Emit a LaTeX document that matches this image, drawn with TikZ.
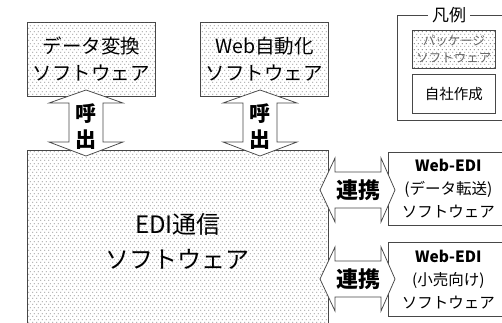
\documentclass[tikz,border=0pt]{standalone}
\usepackage{fontspec}
\setmainfont{Noto Sans CJK JP}
\usetikzlibrary{patterns.meta}
\newcommand\myfs[2]{\fontsize{#1}{#2}\selectfont}
\tikzdeclarepattern{
  name=pdots,
  type=uncolored,
  bounding box={(0pt,0pt) and (4pt,6pt)},
  tile size={(4pt,6pt)},
  code={\fill (0.4pt,0.4pt) rectangle (1.3pt,1.3pt); \fill (2.4pt,3.4pt) rectangle (3.3pt,4.3pt);}
}
\begin{document}
\begin{tikzpicture}[x=1pt,y=-1pt,
  ln/.style={draw=black!72, line width=0.75pt},
  pkg/.style={ln, fill=white, postaction={pattern=pdots, pattern color=black!65}, inner sep=0pt, anchor=north west, align=center},
  own/.style={ln, fill=white, inner sep=0pt, anchor=north west, align=center},
  barrow/.style={ln, fill=white, line join=miter},
  lbl/.style={inner sep=0pt, align=center}
]
\useasboundingbox (0,0) rectangle (502,322);
\fill[white] (0,0) rectangle (502,322);

% main boxes
\node[pkg, minimum width=128pt, minimum height=74pt, font=\myfs{19.5}{27}] (conv) at (27,22) {データ変換\\ソフトウェア};
\node[pkg, minimum width=128pt, minimum height=74pt, font=\myfs{19.5}{27}] (web) at (200,22) {Web自動化\\ソフトウェア};
\node[pkg, minimum width=301pt, minimum height=182pt, font=\myfs{24}{35}] (edi) at (27,150) {EDI通信\\ソフトウェア};
\node[own, minimum width=120pt, minimum height=73pt, font=\myfs{15.5}{23}] (wedi1) at (388,152) {\textbf{Web-EDI}\\(データ転送)\\ソフトウェア};
\node[own, minimum width=120pt, minimum height=74pt, font=\myfs{15.5}{23}] (wedi2) at (388,242) {\textbf{Web-EDI}\\(小売向け)\\ソフトウェア};

% legend
\draw[ln] (397,15) rectangle (512,120);
\node[fill=white, inner xsep=4pt, inner ysep=0pt, font=\myfs{17}{18}] (legtitle) at (449,15) {凡例};
\node[pkg, minimum width=83pt, minimum height=38pt, font=\myfs{12.5}{17}, text=black!60] (legpkg) at (412,30) {パッケージ\\ソフトウェア};
\node[own, minimum width=83pt, minimum height=39pt, font=\myfs{14.5}{16}] (legown) at (412,74) {自社作成};

% vertical block arrows (call)
\draw[barrow] (86,90) -- (123,103) -- (103,103) -- (103,142) -- (123,142) -- (86,156)
  -- (49,142) -- (69,142) -- (69,103) -- (49,103) -- cycle;
\node[lbl, font=\myfs{21}{26}\bfseries] (call1) at (86,127) {呼\\出};
\draw[barrow] (260,90) -- (297,103) -- (277,103) -- (277,142) -- (297,142) -- (260,156)
  -- (223,142) -- (243,142) -- (243,103) -- (223,103) -- cycle;
\node[lbl, font=\myfs{21}{26}\bfseries] (call2) at (260,127) {呼\\出};

% horizontal block arrows (link)
\draw[barrow] (320,190) -- (335,158) -- (335,172) -- (381,172) -- (381,158) -- (395,190)
  -- (381,222) -- (381,208) -- (335,208) -- (335,222) -- cycle;
\node[lbl, font=\myfs{22}{24}\bfseries] (link1) at (358,190) {連携};
\draw[barrow] (320,279) -- (335,247) -- (335,261) -- (381,261) -- (381,247) -- (395,279)
  -- (381,311) -- (381,297) -- (335,297) -- (335,311) -- cycle;
\node[lbl, font=\myfs{22}{24}\bfseries] (link2) at (358,279) {連携};
\end{tikzpicture}
\end{document}
